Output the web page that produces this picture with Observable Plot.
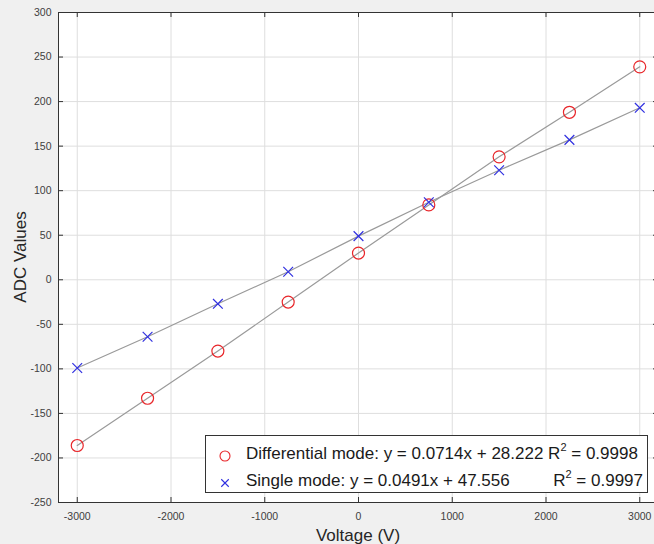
<!DOCTYPE html>
<html>
<head>
<meta charset="utf-8">
<script src="https://cdn.jsdelivr.net/npm/d3@7"></script>
<script src="https://cdn.jsdelivr.net/npm/@observablehq/plot@0.6"></script>
<style>
  html, body { margin: 0; padding: 0; background: #f0f0f0; }
  #wrap { position: relative; width: 654px; height: 544px; background: #f0f0f0; overflow: hidden; font-family: "Liberation Sans", Arial, sans-serif; }
  #legend { position: absolute; left: 205px; top: 435px; width: 443px; height: 58px; background: #fff; border: 1px solid #333; box-sizing: border-box; font-size: 17px; color: #1a1a1a; }
  .row { position: absolute; left: 0; right: 0; height: 25px; line-height: 25px; white-space: nowrap; }
  .mk { position: absolute; left: 9px; width: 20px; top: 1px; text-align: center; }
  .lbl { position: absolute; left: 40px; }
  .r2 { position: absolute; right: 4px; }
  sup { font-size: 11px; line-height: 0; vertical-align: 8px; }
</style>
</head>
<body>
<div id="wrap"><div id="chart"></div>
<div id="legend">
  <div class="row" style="top:5px"><span class="mk" id="mk1"></span><span class="lbl">Differential mode: y = 0.0714x + 28.222 R<sup>2</sup> = 0.9998</span></div>
  <div class="row" style="top:32px"><span class="mk" id="mk2"></span><span class="lbl">Single mode: y = 0.0491x + 47.556</span><span class="r2">R<sup>2</sup> = 0.9997</span></div>
</div>
</div>
<script>
const voltages = [-3000, -2250, -1500, -750, 0, 750, 1500, 2250, 3000];
const differential = [-186, -133, -80, -25, 30, 84, 138, 188, 239];
const single = [-99, -64, -27, 9, 49, 87, 123, 157, 193];
const xTicks = [-3000, -2000, -1000, 0, 1000, 2000, 3000];
const yTicks = [-250, -200, -150, -100, -50, 0, 50, 100, 150, 200, 250, 300];

const diffData = voltages.map((v, i) => ({x: v, y: differential[i]}));
const singleData = voltages.map((v, i) => ({x: v, y: single[i]}));

const W = 654, H = 544, mL = 58, mT = 12, mB = 42, mR = -4;
const plotH = H - mT - mB, plotW = W - mL - mR;
const axisColor = "#333";
const fmt = d => String(d);

const chart = Plot.plot({
  width: W, height: H,
  marginLeft: mL, marginTop: mT, marginBottom: mB, marginRight: mR,
  style: {background: "transparent", fontFamily: "'Liberation Sans', Arial, sans-serif", fontSize: "10.5px", color: "#404040"},
  x: {domain: [-3200, 3200]},
  y: {domain: [-250, 300]},
  marks: [
    Plot.frame({fill: "white", stroke: null}),
    Plot.gridX(xTicks, {stroke: "#dedede", strokeOpacity: 1}),
    Plot.gridY(yTicks, {stroke: "#dedede", strokeOpacity: 1}),
    Plot.tickX(xTicks, {x: d => d, stroke: axisColor, insetTop: plotH - 5}),
    Plot.tickX(xTicks, {x: d => d, stroke: axisColor, insetBottom: plotH - 5}),
    Plot.tickY(yTicks, {y: d => d, stroke: axisColor, insetRight: plotW - 5}),
    Plot.tickY(yTicks, {y: d => d, stroke: axisColor, insetLeft: plotW - 5}),
    Plot.axisX(xTicks, {tickSize: 0, tickPadding: 10, label: null, tickFormat: fmt, fill: "#404040"}),
    Plot.axisY(yTicks, {tickSize: 0, tickPadding: 7, label: null, tickFormat: fmt, fill: "#404040"}),
    Plot.line(diffData, {x: "x", y: "y", stroke: "#9a9a9a", strokeWidth: 1.2}),
    Plot.line(singleData, {x: "x", y: "y", stroke: "#9a9a9a", strokeWidth: 1.2}),
    Plot.dot(diffData, {x: "x", y: "y", r: 6, stroke: "#e8262a", strokeWidth: 1.2, fill: "none"}),
    Plot.dot(singleData, {x: "x", y: "y", r: 4.5, symbol: "times", stroke: "#3030e0", strokeWidth: 1.2, fill: "none"}),
    Plot.frame({stroke: axisColor, strokeWidth: 1})
  ]
});
document.getElementById("chart").appendChild(chart);

// axis titles as SVG text
const svg = d3.select(chart);
svg.append("text").attr("x", (mL + W - mR) / 2).attr("y", H - 3)
  .attr("text-anchor", "middle").attr("font-size", 17).attr("fill", "#262626")
  .text("Voltage (V)");
svg.append("text").attr("transform", `translate(26,${mT + plotH / 2}) rotate(-90)`)
  .attr("text-anchor", "middle").attr("font-size", 17).attr("fill", "#262626")
  .text("ADC Values");

// legend markers
function marker(id, sym, color, r) {
  const s = d3.create("svg").attr("width", 20).attr("height", 20).style("vertical-align", "middle");
  const p = d3.symbol(sym, r * r * Math.PI)();
  s.append("path").attr("d", p).attr("transform", "translate(10,10)").attr("fill", "none").attr("stroke", color).attr("stroke-width", 1.1);
  document.getElementById(id).appendChild(s.node());
}
marker("mk1", d3.symbolCircle, "#e8262a", 5);
marker("mk2", d3.symbolTimes, "#3030e0", 3.5);
</script>
</body>
</html>
